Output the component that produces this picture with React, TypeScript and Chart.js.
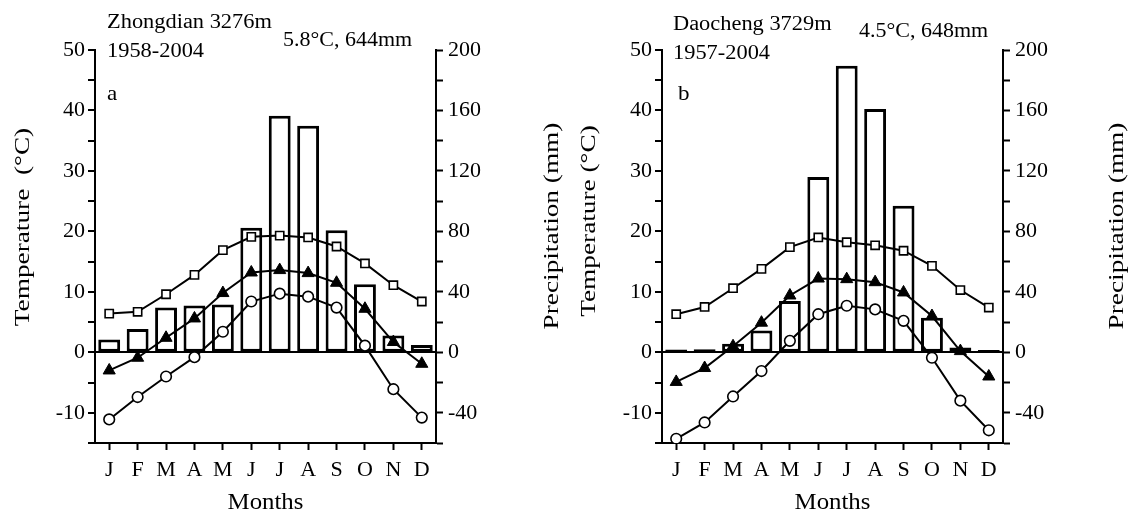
import React, { useEffect, useRef } from 'react';
import { Chart, registerables } from 'chart.js';

Chart.register(...registerables);

// ---------- data ----------
const months = ['J', 'F', 'M', 'A', 'M', 'J', 'J', 'A', 'S', 'O', 'N', 'D'];

// Zhongdian (panel a)
const zhMax = [6.4, 6.7, 9.6, 12.8, 16.9, 19.1, 19.3, 19.0, 17.5, 14.7, 11.1, 8.4];
const zhMean = [-3.0, -0.9, 2.4, 5.6, 9.8, 13.2, 13.6, 13.1, 11.5, 7.2, 1.7, -1.9];
const zhMin = [-11.1, -7.4, -4.0, -0.8, 3.4, 8.4, 9.7, 9.2, 7.4, 1.1, -6.1, -10.8];
const zhPrecip = [8.4, 15.5, 29.6, 30.9, 31.7, 82.4, 156.5, 149.9, 80.7, 45.0, 11.2, 4.9];

// Daocheng (panel b)
const dcMax = [6.3, 7.5, 10.6, 13.8, 17.4, 19.0, 18.2, 17.7, 16.8, 14.3, 10.3, 7.4];
const dcMean = [-4.9, -2.6, 1.0, 4.9, 9.4, 12.2, 12.1, 11.6, 9.9, 6.0, 0.2, -4.0];
const dcMin = [-14.3, -11.6, -7.3, -3.1, 1.9, 6.3, 7.7, 7.1, 5.2, -0.9, -8.0, -12.9];
const dcPrecip = [1.8, 2.0, 5.7, 14.5, 34.0, 116.0, 189.6, 160.9, 97.0, 22.9, 3.1, 1.6];

// axis ranges / ticks
const tempRange = [-15, 50];
const tempStep = 5;
const tempLabelEvery = 10;
const precipRange = [-60, 200];
const precipStep = 20;
const precipLabelEvery = 40;

// texts
const zhTexts = ['Zhongdian 3276m', '1958-2004', 'a', '5.8°C, 644mm'];
const dcTexts = ['Daocheng 3729m', '1957-2004', 'b', '4.5°C, 648mm'];
const xTitle = 'Months';
const zhTempTitle = 'Temperature  (°C)';
const dcTempTitle = 'Temperature (°C)';
const precipTitle = 'Precipitation (mm)';

const FONT = '"Liberation Serif", "Times New Roman", Times, serif';
const W = 566;
const H = 515;

type Layout = {
  left: number;
  right: number;
  station: [number, number];
  period: [number, number];
  letter: [number, number];
  summary: [number, number];
  tempTitle: [number, number];
  precipTitleXY: [number, number];
};

type Panel = {
  max: number[];
  mean: number[];
  min: number[];
  precip: number[];
  texts: string[];
  tempTitle: string;
  layout: Layout;
};

const panels: Panel[] = [
  {
    max: zhMax,
    mean: zhMean,
    min: zhMin,
    precip: zhPrecip,
    texts: zhTexts,
    tempTitle: zhTempTitle,
    layout: {
      left: 95,
      right: 436,
      station: [107, 28],
      period: [107, 57],
      letter: [107, 100],
      summary: [283, 46],
      tempTitle: [29, 227],
      precipTitleXY: [558, 226],
    },
  },
  {
    max: dcMax,
    mean: dcMean,
    min: dcMin,
    precip: dcPrecip,
    texts: dcTexts,
    tempTitle: dcTempTitle,
    layout: {
      left: 96,
      right: 437,
      station: [107, 30],
      period: [107, 59],
      letter: [112, 100],
      summary: [293, 37],
      tempTitle: [29, 221],
      precipTitleXY: [557, 226],
    },
  },
];

function drawText(
  ctx: CanvasRenderingContext2D,
  text: string,
  x: number,
  y: number,
  size: number,
  sx: number,
  align: CanvasTextAlign,
  rotate = false
) {
  ctx.save();
  ctx.font = `${size}px ${FONT}`;
  ctx.fillStyle = '#000';
  ctx.textAlign = align;
  ctx.textBaseline = 'alphabetic';
  ctx.translate(x, y);
  if (rotate) ctx.rotate(-Math.PI / 2);
  ctx.scale(sx, 1);
  ctx.fillText(text, 0, 0);
  ctx.restore();
}

function PanelChart({ panel }: { panel: Panel }) {
  const ref = useRef<HTMLCanvasElement | null>(null);

  useEffect(() => {
    if (!ref.current) return;
    const L = panel.layout;
    const textPlugin = {
      id: 'panelTexts',
      afterDraw(chart: any) {
        const ctx = chart.ctx as CanvasRenderingContext2D;
        const area = chart.chartArea;
        drawText(ctx, panel.texts[0], L.station[0], L.station[1], 20, 1.12, 'left');
        drawText(ctx, panel.texts[1], L.period[0], L.period[1], 20, 1.12, 'left');
        drawText(ctx, panel.texts[2], L.letter[0], L.letter[1], 22, 1.05, 'left');
        drawText(ctx, panel.texts[3], L.summary[0], L.summary[1], 20, 1.1, 'left');
        drawText(ctx, xTitle, (area.left + area.right) / 2, 509, 23, 1.08, 'center');
        drawText(ctx, panel.tempTitle, L.tempTitle[0], L.tempTitle[1], 22, 1.24, 'center', true);
        drawText(ctx, precipTitle, L.precipTitleXY[0], L.precipTitleXY[1], 22, 1.24, 'center', true);
      },
    };

    const tickFont = { family: FONT, size: 22 };

    const chart = new Chart(ref.current, {
      type: 'bar',
      data: {
        labels: months,
        datasets: [
          {
            type: 'line',
            label: 'Max',
            data: panel.max,
            yAxisID: 'y',
            borderColor: '#000',
            borderWidth: 2,
            pointStyle: 'rect',
            pointRadius: 5.8,
            pointBackgroundColor: '#fff',
            pointBorderColor: '#000',
            pointBorderWidth: 1.6,
            fill: false,
            tension: 0,
            order: 1,
          } as any,
          {
            type: 'line',
            label: 'Mean',
            data: panel.mean,
            yAxisID: 'y',
            borderColor: '#000',
            borderWidth: 2,
            pointStyle: 'triangle',
            pointRadius: 7,
            pointBackgroundColor: '#000',
            pointBorderColor: '#000',
            pointBorderWidth: 1,
            fill: false,
            tension: 0,
            order: 1,
          } as any,
          {
            type: 'line',
            label: 'Min',
            data: panel.min,
            yAxisID: 'y',
            borderColor: '#000',
            borderWidth: 2,
            pointStyle: 'circle',
            pointRadius: 5.3,
            pointBackgroundColor: '#fff',
            pointBorderColor: '#000',
            pointBorderWidth: 1.6,
            fill: false,
            tension: 0,
            order: 1,
          } as any,
          {
            type: 'bar',
            label: 'Precipitation',
            data: panel.precip,
            yAxisID: 'y1',
            backgroundColor: '#fff',
            borderColor: '#000',
            borderWidth: 3,
            borderSkipped: false,
            barPercentage: 0.77,
            categoryPercentage: 1,
            order: 3,
          } as any,
        ],
      },
      options: {
        responsive: false,
        animation: false,
        devicePixelRatio: 1,
        layout: { padding: { top: 50, left: 0, right: 0, bottom: 0 } },
        plugins: {
          legend: { display: false },
          tooltip: { enabled: false },
          title: { display: false },
        },
        scales: {
          x: {
            type: 'category',
            offset: true,
            afterFit: (s: any) => {
              s.height = H - 443;
            },
            grid: {
              offset: false,
              drawOnChartArea: false,
              drawTicks: true,
              tickLength: 7,
              tickColor: '#000',
              tickWidth: 2,
            },
            border: { display: true, color: '#000', width: 2 },
            ticks: { color: '#000', font: tickFont, padding: 7, autoSkip: false, maxRotation: 0 },
          },
          y: {
            type: 'linear',
            position: 'left',
            min: tempRange[0],
            max: tempRange[1],
            afterFit: (s: any) => {
              s.width = L.left;
            },
            grid: {
              drawOnChartArea: true,
              drawTicks: true,
              tickLength: 7,
              color: (c: any) => (c.tick && c.tick.value === 0 ? '#000' : 'rgba(0,0,0,0)'),
              lineWidth: 2,
              tickColor: '#000',
              tickWidth: 2,
            },
            border: { display: true, color: '#000', width: 2 },
            ticks: {
              stepSize: tempStep,
              autoSkip: false,
              color: '#000',
              font: tickFont,
              padding: 3,
              callback: (v: any) => (Number(v) % tempLabelEvery === 0 ? String(v) : ''),
            },
          },
          y1: {
            type: 'linear',
            position: 'right',
            min: precipRange[0],
            max: precipRange[1],
            afterFit: (s: any) => {
              s.width = W - L.right;
            },
            grid: {
              drawOnChartArea: false,
              drawTicks: true,
              tickLength: 7,
              tickColor: '#000',
              tickWidth: 2,
            },
            border: { display: true, color: '#000', width: 2 },
            ticks: {
              stepSize: precipStep,
              autoSkip: false,
              color: '#000',
              font: tickFont,
              padding: 5,
              callback: (v: any) => (Number(v) % precipLabelEvery === 0 ? String(v) : ''),
            },
          },
        },
      } as any,
      plugins: [textPlugin],
    });

    return () => chart.destroy();
  }, [panel]);

  return <canvas ref={ref} width={W} height={H} style={{ display: 'block', width: W, height: H }} />;
}

export default function App() {
  return (
    <div
      style={{
        position: 'fixed',
        left: 0,
        top: 0,
        width: 1132,
        height: 515,
        background: '#fff',
        display: 'flex',
      }}
    >
      {panels.map((p, i) => (
        <PanelChart key={i} panel={p} />
      ))}
    </div>
  );
}
